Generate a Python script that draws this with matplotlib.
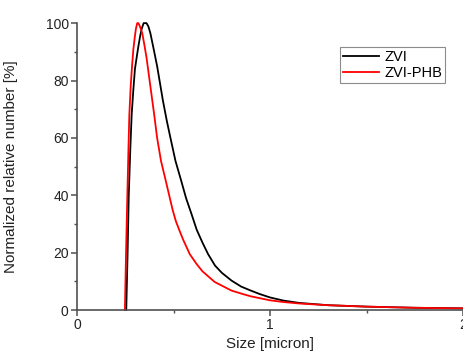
import matplotlib
matplotlib.use("Agg")
import matplotlib.pyplot as plt
from matplotlib.ticker import MultipleLocator

plt.rcParams['font.family'] = ['Liberation Sans', 'DejaVu Sans']

# ZVI (black)
zvi_x = [0.255, 0.262, 0.268, 0.276, 0.283, 0.292, 0.300, 0.310, 0.318, 0.327,
         0.335, 0.345, 0.360, 0.370, 0.380, 0.397, 0.415, 0.430, 0.445, 0.465,
         0.484, 0.510, 0.540, 0.565, 0.593, 0.620, 0.650, 0.679, 0.715, 0.750,
         0.800, 0.850, 0.900, 0.946, 1.00, 1.07, 1.15, 1.30, 1.50, 1.75, 2.00]
zvi_y = [0, 20, 40, 56, 68, 77, 84, 88.5, 92, 95.5,
         98, 100, 100, 98.8, 96.5, 91, 85, 79, 73, 66,
         60, 52, 45, 39, 33.5, 28, 23.5, 19.5, 15.5, 13,
         10.3, 8.2, 6.8, 5.6, 4.4, 3.3, 2.5, 1.7, 1.2, 0.8, 0.6]

# ZVI-PHB (red)
phb_x = [0.248, 0.254, 0.260, 0.266, 0.271, 0.278, 0.285, 0.292, 0.299, 0.305,
         0.312, 0.318, 0.325, 0.338, 0.350, 0.360, 0.375, 0.390, 0.400, 0.415,
         0.435, 0.460, 0.495, 0.512, 0.532, 0.550, 0.584, 0.620, 0.650, 0.713,
         0.800, 0.858, 0.900, 1.00, 1.07, 1.15, 1.30, 1.50, 1.75, 2.00]
phb_y = [0, 20, 38, 55, 68, 78, 85, 91, 95, 98,
         100, 100, 99, 96.5, 92, 88, 80.5, 73, 68, 60,
         52, 45, 35, 31, 27.5, 24.5, 19.5, 16, 13.5, 9.8,
         6.8, 5.6, 4.8, 3.4, 2.8, 2.3, 1.7, 1.2, 0.8, 0.6]

fig = plt.figure(figsize=(4.64, 3.56), dpi=100)
ax = fig.add_axes([0.166, 0.129, 0.832, 0.806])

ax.plot(zvi_x, zvi_y, color='black', lw=1.3, label='ZVI', clip_on=False)
ax.plot(phb_x, phb_y, color='red', lw=1.3, label='ZVI-PHB', clip_on=False)

ax.set_xlim(0, 2)
ax.set_ylim(0, 100)
ax.xaxis.set_major_locator(MultipleLocator(1))
ax.xaxis.set_minor_locator(MultipleLocator(0.5))
ax.yaxis.set_major_locator(MultipleLocator(20))
ax.yaxis.set_minor_locator(MultipleLocator(10))

for s in ['top', 'right']:
    ax.spines[s].set_visible(False)
for s in ['left', 'bottom']:
    ax.spines[s].set_color('#505050')
    ax.spines[s].set_linewidth(1.2)

ax.tick_params(which='major', direction='out', length=4, width=1.1,
               color='#505050', labelsize=10, labelcolor='#222222', pad=2)
ax.tick_params(which='minor', direction='out', length=2.5, width=1.0,
               color='#505050')

ax.set_xlabel('Size [micron]', fontsize=11, labelpad=3, color='#222222')
ax.set_ylabel('Normalized relative number [%]', fontsize=11, color='#222222')
ax.yaxis.set_label_coords(-0.153, 0.5)

leg = ax.legend(loc='upper left', bbox_to_anchor=(340 / 464, 1 - 47 / 356),
                bbox_transform=fig.transFigure, fontsize=10.5, frameon=True,
                fancybox=False, edgecolor='#707070', handlelength=2.5,
                borderpad=0.2, labelspacing=0.15, handletextpad=0.35,
                borderaxespad=0)
leg.get_frame().set_linewidth(0.8)

fig.savefig('out.png', dpi=100)
